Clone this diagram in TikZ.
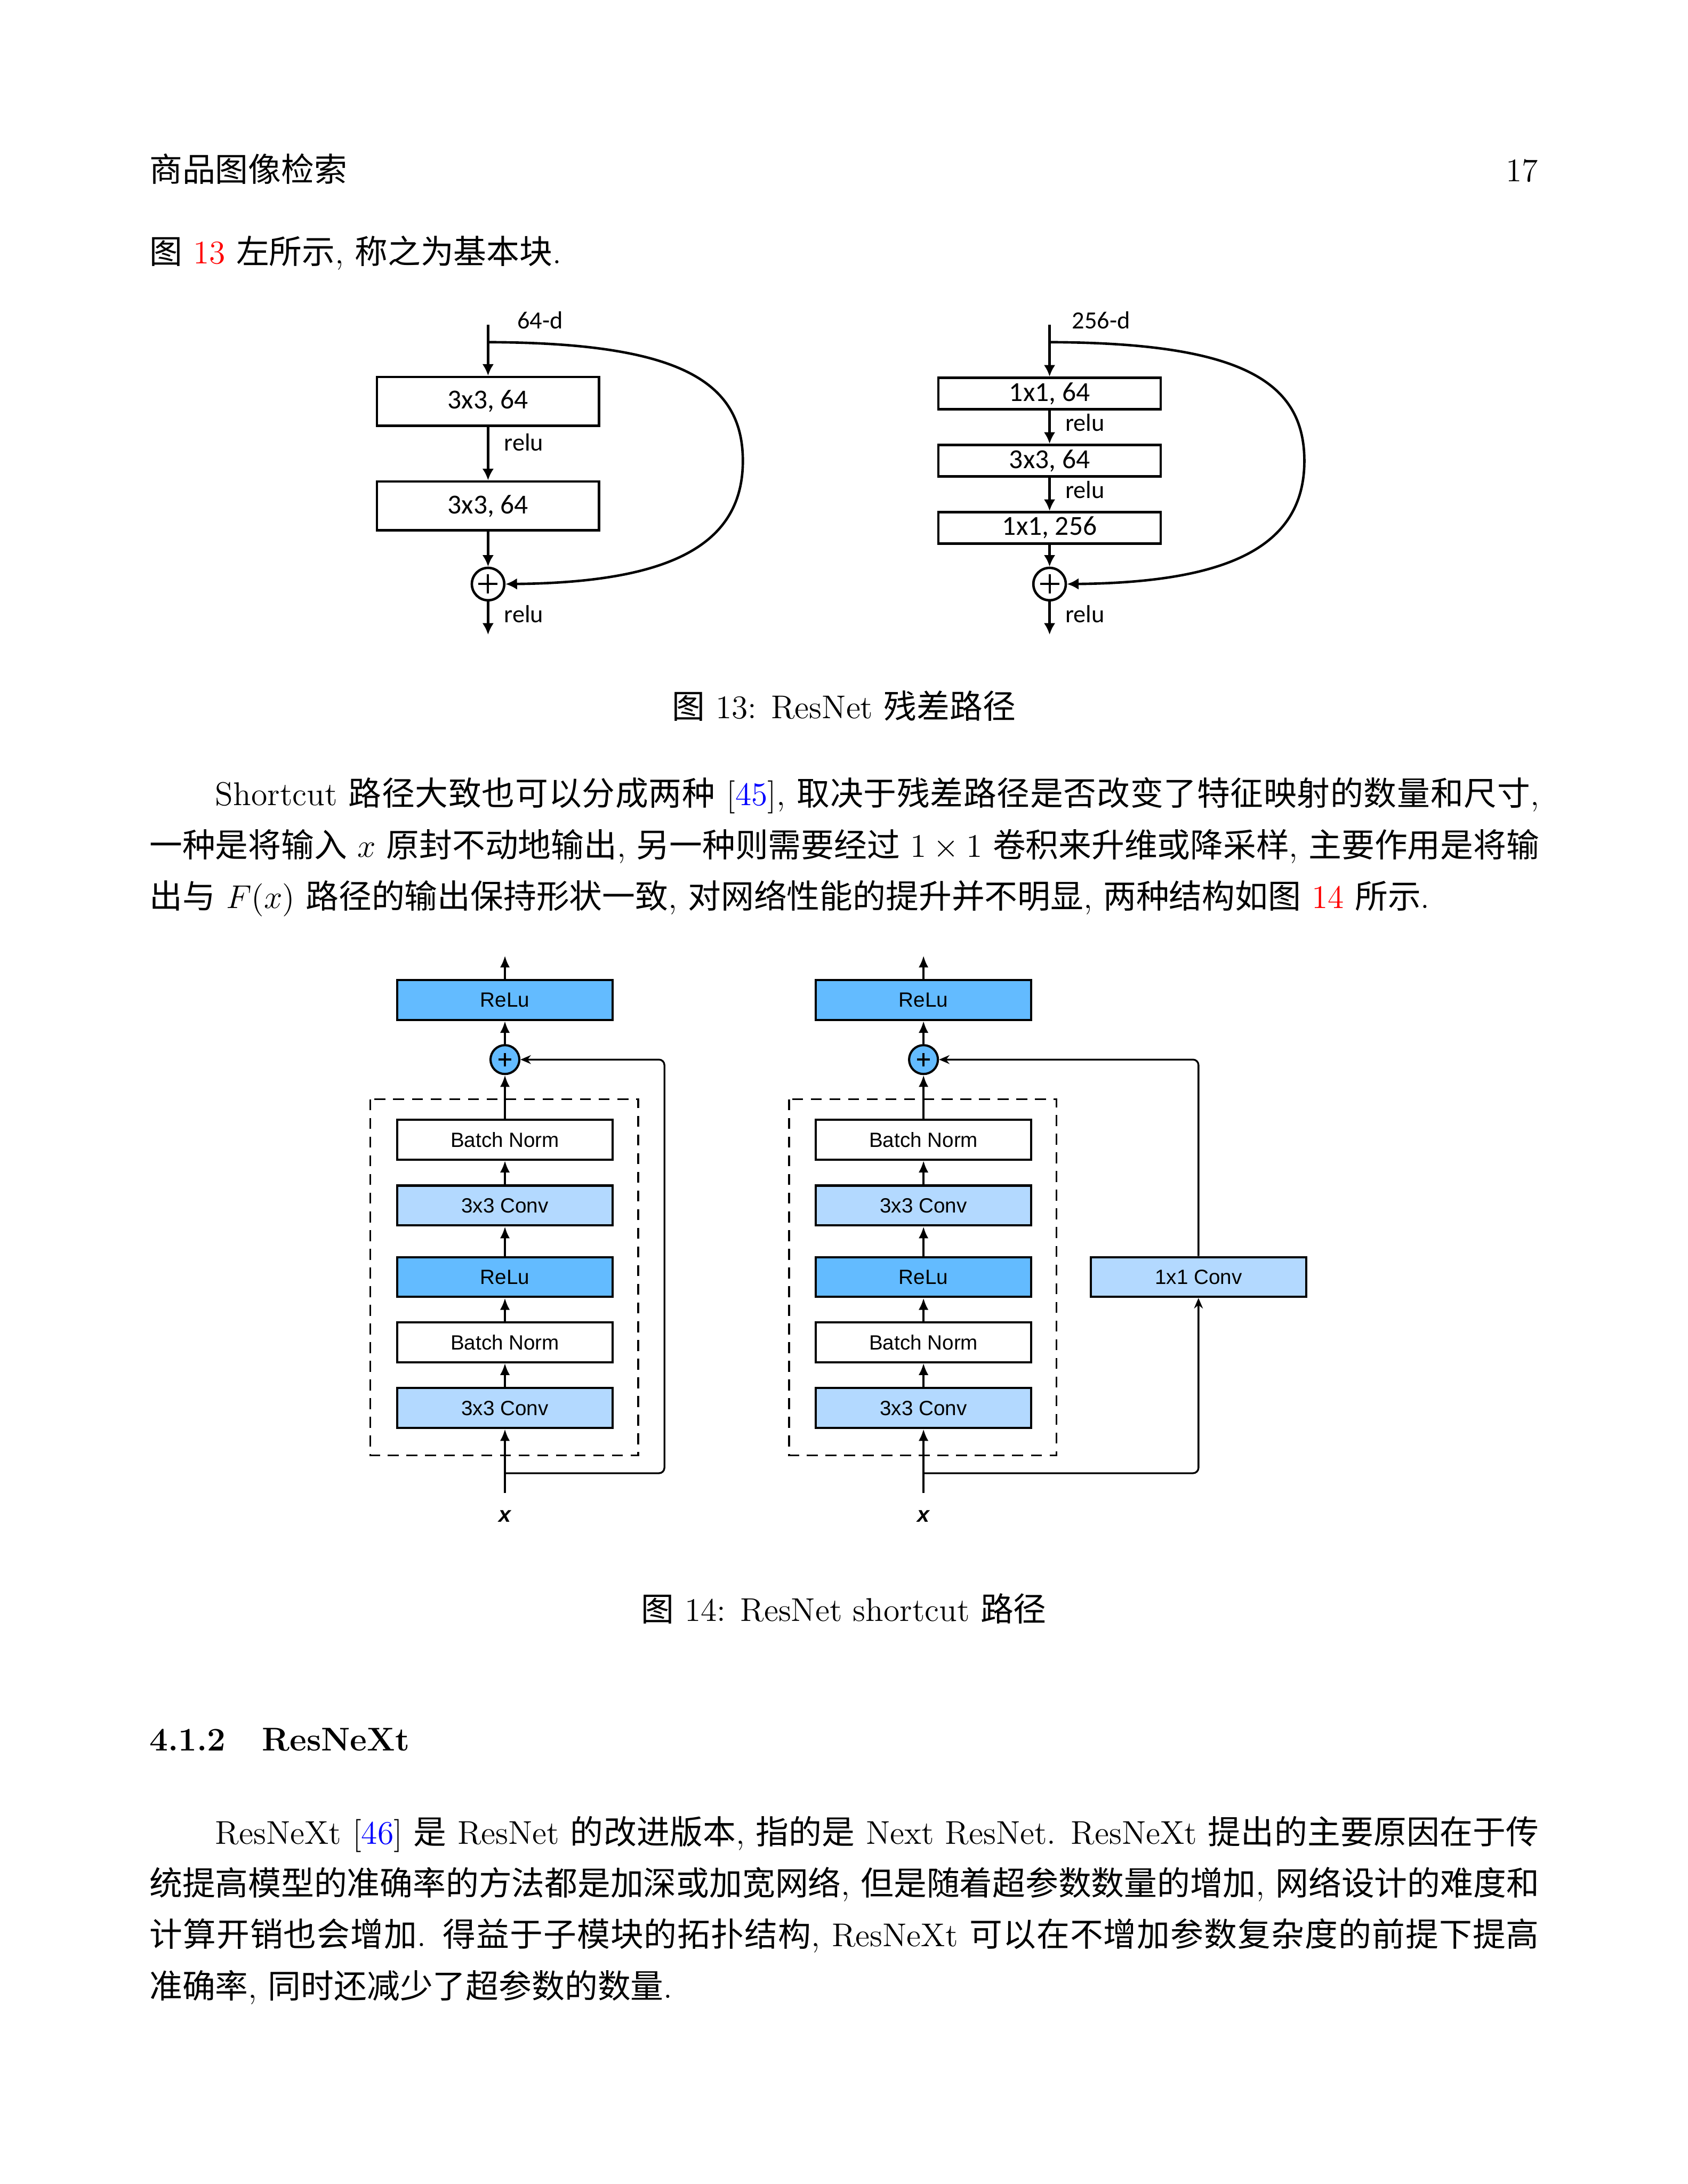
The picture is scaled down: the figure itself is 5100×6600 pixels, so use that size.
\documentclass[tikz,border=0pt]{standalone}
\usepackage{fontspec}
\usetikzlibrary{arrows.meta}
\newfontfamily\cjk{Noto Sans CJK SC}
\newfontfamily\calibri{Carlito}
\newfontfamily\arial{Liberation Sans}
\newcommand{\zh}[1]{{\cjk #1}}
\newcommand{\plusmark}[2]{\draw[line width=#2] ([xshift=-#1]path picture bounding box.center) -- ([xshift=#1]path picture bounding box.center) ([yshift=-#1]path picture bounding box.center) -- ([yshift=#1]path picture bounding box.center);}
\definecolor{relublue}{HTML}{63BBFF}
\definecolor{convblue}{HTML}{B3D9FF}
\XeTeXlinebreaklocale "zh"
\XeTeXlinebreakskip=0pt plus 1.5pt minus 0.3pt
\begin{document}
\begin{tikzpicture}[x=0.12045pt, y=-0.12045pt,
    txt/.style={anchor=base west, inner sep=0pt, font=\fontsize{12}{18.72}\selectfont},
    para/.style={txt, text width=505.9pt, align=justify},
    blk/.style={draw, line width=0.9pt, minimum width=80.9pt, inner sep=0pt, font=\calibri\fontsize{10}{12}\selectfont},
    lbl/.style={anchor=west, inner sep=0pt, font=\calibri\fontsize{9}{11}\selectfont},
    arr/.style={line width=0.9pt, -{Latex[length=4.2pt, width=4.2pt]}},
    sumbig/.style={circle, draw, line width=0.9pt, minimum size=11.8pt, inner sep=0pt, path picture={\plusmark{3.5pt}{0.8pt}}},
    lay/.style={draw, line width=0.8pt, minimum width=78.4pt, minimum height=14.5pt, inner sep=0pt, font=\arial\fontsize{7.5}{9}\selectfont},
    sumsmall/.style={circle, draw, fill=relublue, line width=0.8pt, minimum size=10.5pt, inner sep=0pt, path picture={\plusmark{2.4pt}{0.7pt}}},
    up/.style={line width=0.75pt, -{Latex[length=4.3pt, width=3.6pt]}},
    skip/.style={line width=0.65pt, rounded corners=2pt, -{Stealth[length=3.8pt, width=3.2pt]}},
    grp/.style={line width=0.7pt, dash pattern=on 4pt off 2.8pt},
    xlbl/.style={inner sep=0pt, font=\arial\bfseries\itshape\fontsize{8}{9}\selectfont}
  ]
  \path[fill=white, use as bounding box] (0,0) rectangle (5100,6600);

  % page text
  \node[txt] (head) at (450,549) {\zh{商品图像检索}};
  \node[txt, anchor=base east] (page) at (4650,549) {17};
  \node[txt] (intro) at (450,797) {\zh{图} {\color{red}13} \zh{左所示}, \zh{称之为基本块}.};

  % figure 13, left: basic block
  \coordinate (inA) at (1475,981);
  \coordinate (skA) at (1475,1034);
  \node[blk, minimum height=17.8pt] (a1) at (1475,1213) {3x3, 64};
  \node[blk, minimum height=17.8pt] (a2) at (1475,1529) {3x3, 64};
  \node[sumbig] (sumA) at (1475,1765) {};
  \coordinate (outA) at (1475,1918);
  \node[lbl] (dA) at (1562,968) {64-d};
  \node[lbl] (rA1) at (1522,1336) {relu};
  \node[lbl] (rA2) at (1522,1856) {relu};
  \draw[arr] (inA) -- (a1);
  \draw[arr] (a1) -- (a2);
  \draw[arr] (a2) -- (sumA);
  \draw[arr] (sumA) -- (outA);
  \draw[arr] (skA) .. controls (2050,1036) and (2245,1150) .. (2245,1393) .. controls (2245,1660) and (2000,1760) .. (sumA.east);

  % figure 13, right: bottleneck block
  \coordinate (inB) at (3172,981);
  \coordinate (skB) at (3172,1034);
  \node[blk, minimum height=11.4pt] (b1) at (3172,1189) {1x1, 64};
  \node[blk, minimum height=11.4pt] (b2) at (3172,1392) {3x3, 64};
  \node[blk, minimum height=11.4pt] (b3) at (3172,1595) {1x1, 256};
  \node[sumbig] (sumB) at (3172,1765) {};
  \coordinate (outB) at (3172,1918);
  \node[lbl] (dB) at (3238,968) {256-d};
  \node[lbl] (rB1) at (3218,1277) {relu};
  \node[lbl] (rB2) at (3218,1480) {relu};
  \node[lbl] (rB3) at (3218,1856) {relu};
  \draw[arr] (inB) -- (b1);
  \draw[arr] (b1) -- (b2);
  \draw[arr] (b2) -- (b3);
  \draw[arr] (b3) -- (sumB);
  \draw[arr] (sumB) -- (outB);
  \draw[arr] (skB) .. controls (3747,1036) and (3942,1150) .. (3942,1393) .. controls (3942,1660) and (3697,1760) .. (sumB.east);

  \node[txt, anchor=base] (capA) at (2550,2171) {\zh{图} 13: ResNet \zh{残差路径}};

  \node[para] (par1) at (450,2434) {\hspace*{24pt}Shortcut \zh{路径大致也可以分成两种} [{\color{blue}45}], \zh{取决于残差路径是否改变了特征映射的数量和尺寸},\linebreak
    \zh{一种是将输入} $x$ \zh{原封不动地输出}, \zh{另一种则需要经过} $1\times 1$ \zh{卷积来升维或降采样}, \zh{主要作用是将输}\linebreak
    \zh{出与} $F(x)$ \zh{路径的输出保持形状一致}, \zh{对网络性能的提升并不明显}, \zh{两种结构如图} {\color{red}14} \zh{所示}.};

  % figure 14, left: identity shortcut
  \coordinate (topC) at (1526,2888);
  \node[lay, fill=relublue] (rC) at (1526,3022) {ReLu};
  \node[sumsmall] (sumC) at (1526,3202) {};
  \node[lay] (nC1) at (1526,3444) {Batch Norm};
  \node[lay, fill=convblue] (cC1) at (1526,3643) {3x3 Conv};
  \node[lay, fill=relublue] (rC1) at (1526,3859) {ReLu};
  \node[lay] (nC2) at (1526,4056) {Batch Norm};
  \node[lay, fill=convblue] (cC2) at (1526,4255) {3x3 Conv};
  \coordinate (brC) at (1526,4452);
  \coordinate (inC) at (1526,4512);
  \node[xlbl] (xC) at (1526,4582) {x};
  \draw[grp] (1119,3322) rectangle (1929,4398);
  \draw[up] (inC) -- (cC2);
  \draw[up] (cC2) -- (nC2);
  \draw[up] (nC2) -- (rC1);
  \draw[up] (rC1) -- (cC1);
  \draw[up] (cC1) -- (nC1);
  \draw[up] (nC1) -- (sumC);
  \draw[up] (sumC) -- (rC);
  \draw[up] (rC) -- (topC);
  \draw[skip] (brC) -- (2008,4452) -- (2008,3202) -- (sumC);

  % figure 14, right: 1x1 conv shortcut
  \coordinate (topD) at (2791,2888);
  \node[lay, fill=relublue] (rD) at (2791,3022) {ReLu};
  \node[sumsmall] (sumD) at (2791,3202) {};
  \node[lay] (nD1) at (2791,3444) {Batch Norm};
  \node[lay, fill=convblue] (cD1) at (2791,3643) {3x3 Conv};
  \node[lay, fill=relublue] (rD1) at (2791,3859) {ReLu};
  \node[lay] (nD2) at (2791,4056) {Batch Norm};
  \node[lay, fill=convblue] (cD2) at (2791,4255) {3x3 Conv};
  \node[lay, fill=convblue] (kD) at (3622,3859) {1x1 Conv};
  \coordinate (brD) at (2791,4452);
  \coordinate (inD) at (2791,4512);
  \node[xlbl] (xD) at (2791,4582) {x};
  \draw[grp] (2385,3322) rectangle (3193,4398);
  \draw[up] (inD) -- (cD2);
  \draw[up] (cD2) -- (nD2);
  \draw[up] (nD2) -- (rD1);
  \draw[up] (rD1) -- (cD1);
  \draw[up] (cD1) -- (nD1);
  \draw[up] (nD1) -- (sumD);
  \draw[up] (sumD) -- (rD);
  \draw[up] (rD) -- (topD);
  \draw[skip] (brD) -- (3622,4452) -- (kD.south);
  \draw[skip] (kD.north) -- (3622,3202) -- (sumD);

  \node[txt, anchor=base] (capB) at (2550,4899) {\zh{图} 14: ResNet shortcut \zh{路径}};

  \node[txt, font=\fontsize{12}{18.72}\selectfont\bfseries] (sec) at (450,5290) {4.1.2\hspace{1.1em}ResNeXt};

  \node[para] (par2) at (450,5572) {\hspace*{24pt}ResNeXt [{\color{blue}46}] \zh{是} ResNet \zh{的改进版本}, \zh{指的是} Next ResNet. ResNeXt \zh{提出的主要原因在于传}\linebreak
    \zh{统提高模型的准确率的方法都是加深或加宽网络}, \zh{但是随着超参数数量的增加}, \zh{网络设计的难度和}\linebreak
    \zh{计算开销也会增加}. \zh{得益于子模块的拓扑结构}, ResNeXt \zh{可以在不增加参数复杂度的前提下提高}\linebreak
    \zh{准确率}, \zh{同时还减少了超参数的数量}.};
\end{tikzpicture}
\end{document}
